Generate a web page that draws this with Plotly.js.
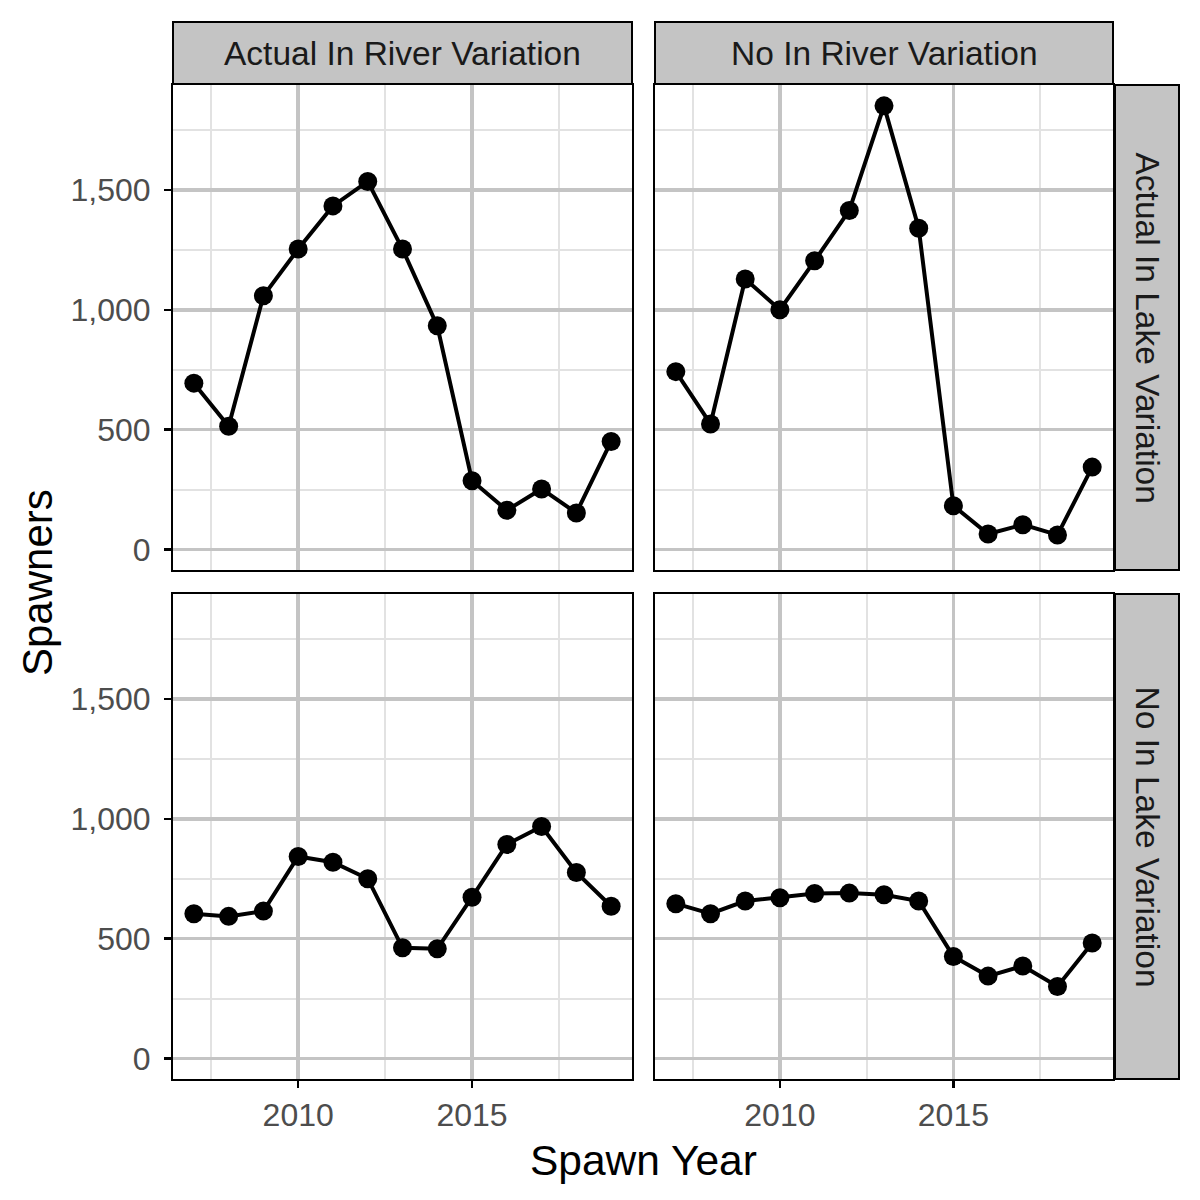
<!DOCTYPE html>
<html>
<head>
<meta charset="utf-8">
<script src="https://cdn.plot.ly/plotly-3.0.1.min.js"></script>
<style>
  body { margin: 0; background: white; }
  #graph { width: 1200px; height: 1200px; }
</style>
</head>
<body>
<div id="graph"></div>
<script>
// spawn years on the x axis
var years = [2007, 2008, 2009, 2010, 2011, 2012, 2013, 2014, 2015, 2016, 2017, 2018, 2019];

// facet labels
var riverLabels = ['Actual In River Variation', 'No In River Variation'];
var lakeLabels = ['Actual In Lake Variation', 'No In Lake Variation'];

// spawners, one array per panel
var actualRiverActualLake = [694, 514, 1058, 1253, 1433, 1535, 1253, 933, 287, 164, 253, 153, 451];
var noRiverActualLake = [742, 524, 1128, 1000, 1204, 1414, 1850, 1340, 183, 65, 104, 61, 344];
var actualRiverNoLake = [604, 593, 615, 843, 819, 750, 462, 458, 673, 893, 968, 776, 635];
var noRiverNoLake = [646, 604, 657, 671, 688, 690, 683, 657, 426, 344, 386, 301, 482];

var W = 1200, H = 1200;
function px(x) { return x / W; }
function py(y) { return 1 - y / H; }

// panel boxes in pixels
var colX = [[173, 632], [655, 1113]];
var rowY = [[85, 570], [594, 1079]];

var panels = [
  { y: actualRiverActualLake, col: 0, row: 0 },
  { y: noRiverActualLake, col: 1, row: 0 },
  { y: actualRiverNoLake, col: 0, row: 1 },
  { y: noRiverNoLake, col: 1, row: 1 }
];

var fontFam = 'Liberation Sans, Arial, sans-serif';
var charts = [];
var layout = {
  width: W,
  height: H,
  margin: { l: 0, r: 0, t: 0, b: 0 },
  paper_bgcolor: 'white',
  plot_bgcolor: 'white',
  showlegend: false,
  font: { family: fontFam, color: '#4d4d4d' },
  shapes: [],
  annotations: []
};

for (var i = 0; i < panels.length; i++) {
  var p = panels[i];
  var n = i + 1;
  var xa = n == 1 ? 'xaxis' : 'xaxis' + n;
  var ya = n == 1 ? 'yaxis' : 'yaxis' + n;
  var bottom = p.row == 1;
  var left = p.col == 0;

  charts.push({
    type: 'scatter',
    mode: 'lines+markers',
    x: years,
    y: p.y,
    xaxis: 'x' + (n == 1 ? '' : n),
    yaxis: 'y' + (n == 1 ? '' : n),
    line: { color: 'black', width: 4 },
    marker: { color: 'black', size: 19 },
    hoverinfo: 'x+y'
  });

  layout[xa] = {
    domain: [px(colX[p.col][0]), px(colX[p.col][1])],
    anchor: 'y' + (n == 1 ? '' : n),
    range: [2006.4, 2019.6],
    tick0: 2010,
    dtick: 5,
    showgrid: true,
    gridcolor: '#c4c4c4',
    gridwidth: 3.5,
    minor: { dtick: 2.5, showgrid: true, gridcolor: '#e2e2e2', gridwidth: 2 },
    zeroline: false,
    showline: true,
    mirror: true,
    linecolor: 'black',
    linewidth: 2,
    ticks: bottom ? 'outside' : '',
    ticklen: 7,
    tickwidth: 2.5,
    tickcolor: 'black',
    showticklabels: bottom,
    tickfont: { family: fontFam, size: 32, color: '#4d4d4d' }
  };

  layout[ya] = {
    domain: [py(rowY[p.row][1]), py(rowY[p.row][0])],
    anchor: 'x' + (n == 1 ? '' : n),
    range: [-85, 1937],
    tick0: 0,
    dtick: 500,
    tickformat: ',',
    showgrid: true,
    gridcolor: '#c4c4c4',
    gridwidth: 3.5,
    minor: { dtick: 250, showgrid: true, gridcolor: '#e2e2e2', gridwidth: 2 },
    zeroline: false,
    showline: true,
    mirror: true,
    linecolor: 'black',
    linewidth: 2,
    ticks: left ? 'outside' : '',
    ticklen: 7,
    tickwidth: 2.5,
    tickcolor: 'black',
    ticklabelstandoff: 7,
    showticklabels: left,
    tickfont: { family: fontFam, size: 32, color: '#4d4d4d' }
  };
}

// top strips (columns)
for (var c = 0; c < 2; c++) {
  layout.shapes.push({
    type: 'rect', xref: 'paper', yref: 'paper',
    x0: px(colX[c][0]), x1: px(colX[c][1]), y0: py(84), y1: py(22),
    fillcolor: '#c4c4c4', line: { color: 'black', width: 2 }, layer: 'above'
  });
  layout.annotations.push({
    xref: 'paper', yref: 'paper',
    x: px((colX[c][0] + colX[c][1]) / 2), y: py(53),
    text: riverLabels[c], showarrow: false,
    xanchor: 'center', yanchor: 'middle',
    font: { family: fontFam, size: 33.5, color: '#1a1a1a' }
  });
}

// right strips (rows)
for (var r = 0; r < 2; r++) {
  layout.shapes.push({
    type: 'rect', xref: 'paper', yref: 'paper',
    x0: px(1115), x1: px(1179), y0: py(rowY[r][1]), y1: py(rowY[r][0]),
    fillcolor: '#c4c4c4', line: { color: 'black', width: 2 }, layer: 'above'
  });
  layout.annotations.push({
    xref: 'paper', yref: 'paper',
    x: px(1147), y: py((rowY[r][0] + rowY[r][1]) / 2),
    text: lakeLabels[r], showarrow: false, textangle: 90,
    xanchor: 'center', yanchor: 'middle',
    font: { family: fontFam, size: 33.5, color: '#1a1a1a' }
  });
}

// axis titles
layout.annotations.push({
  xref: 'paper', yref: 'paper', x: px(643), y: py(1160),
  text: 'Spawn Year', showarrow: false, xanchor: 'center', yanchor: 'middle',
  font: { family: fontFam, size: 42.5, color: 'black' }
});
layout.annotations.push({
  xref: 'paper', yref: 'paper', x: px(37), y: py(583),
  text: 'Spawners', showarrow: false, textangle: -90, xanchor: 'center', yanchor: 'middle',
  font: { family: fontFam, size: 42, color: 'black' }
});

Plotly.newPlot('graph', charts, layout, { staticPlot: true });
</script>
</body>
</html>
